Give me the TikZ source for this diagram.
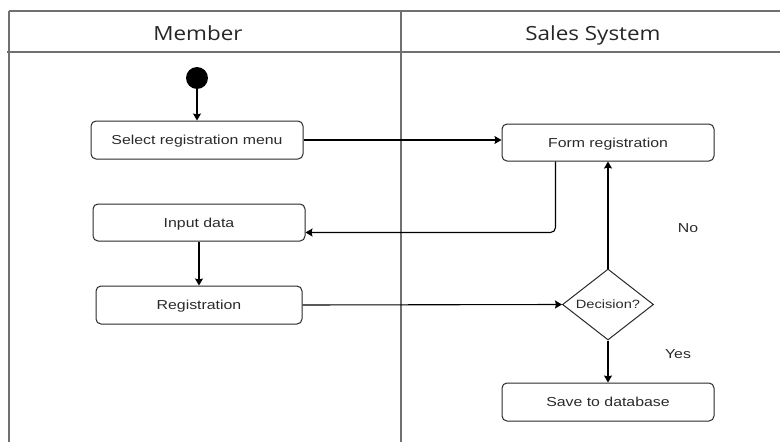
\documentclass[tikz,border=0pt]{standalone}
\usepackage{fontspec}
\setmainfont{Liberation Sans}
\newfontfamily\lanefont[FakeStretch=1.15]{Open Sans}
\newfontfamily\actfont[FakeStretch=1.22]{Liberation Sans}
\usetikzlibrary{positioning,arrows.meta,shapes.geometric}
\definecolor{laneline}{HTML}{707070}
\definecolor{inkgray}{HTML}{2A2A2A}
\tikzset{
  flowarrow/.style={-{Stealth[length=7pt,width=8pt,inset=1pt]}, line width=1.1pt, draw=black},
  actnode/.style={draw=inkgray, rounded corners=5pt, line width=1pt, fill=white, minimum width=212pt, minimum height=38pt, align=center, text height=9.3pt, text depth=0pt, text=inkgray, font=\actfont\fontsize{13}{15}\selectfont},
  decnode/.style={draw=inkgray, diamond, aspect=1.3, line width=1pt, fill=white, minimum width=91pt, minimum height=71pt, inner sep=0pt, text height=8.6pt, text depth=0pt, text=inkgray, font=\actfont\fontsize{12}{14}\selectfont},
  startnode/.style={circle, fill=black, minimum size=22pt, inner sep=0pt},
  lanelabel/.style={text=black!85, text height=14pt, text depth=0pt, font=\lanefont\fontsize{19.5}{22}\selectfont},
  guardlabel/.style={text=inkgray, text height=9.3pt, text depth=0pt, font=\actfont\fontsize{13}{15}\selectfont},
  laneedge/.style={draw=laneline, line width=1.6pt}
}

\begin{document}
\begin{tikzpicture}[x=1pt, y=-1pt]
  \useasboundingbox (0,0) rectangle (780,442);

  % swimlanes
  \draw[laneedge] (9,11) -- (780,11);
  \draw[laneedge] (7,52) -- (780,52);
  \draw[laneedge] (9,11) -- (9,442);
  \draw[laneedge] (401,11) -- (401,442);
  \node[lanelabel] (member) at (198,33) {Member};
  \node[lanelabel] (sales) at (593,33) {Sales System};

  % member side
  \node[startnode] (start) at (197,78) {};
  \node[actnode] (select) at (197,140) {Select registration menu};
  \node[actnode, minimum height=37pt] (input) at (199,222.5) {Input data};
  \node[actnode, minimum width=206pt] (reg) at (199,305) {Registration};

  % system side
  \node[actnode, minimum height=37pt] (form) at (608,142.5) {Form registration};
  \node[decnode] (dec) at (608,304.5) {Decision?};
  \node[actnode] (save) at (608,402) {Save to database};
  \node[guardlabel] (no) at (688,228) {No};
  \node[guardlabel] (yes) at (678,354) {Yes};

  \draw[flowarrow] (start) -- (select);
  \draw[flowarrow] (select.east) -- (select.east -| form.west);
  \draw[flowarrow, rounded corners=5pt] ([xshift=54pt]form.south west) |- ([yshift=-10pt]input.east);
  \draw[flowarrow] (input) -- (reg);
  \draw[flowarrow] (reg.east) -- (dec.west);
  \draw[flowarrow] (dec.north) -- (form.south);
  \draw[flowarrow] (dec.south) -- (save.north);
\end{tikzpicture}
\end{document}
